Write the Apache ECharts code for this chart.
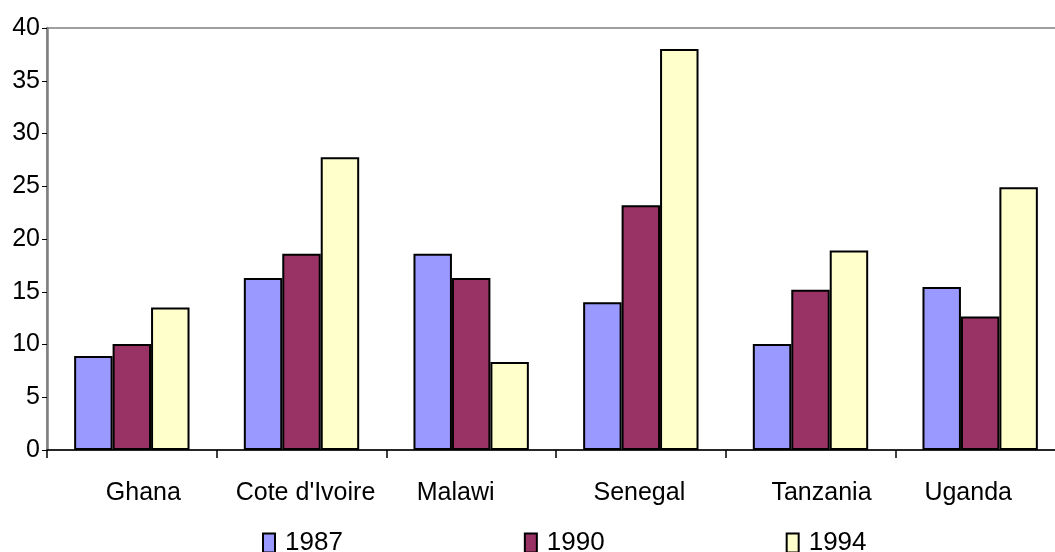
<!DOCTYPE html>
<html>
<head>
<meta charset="utf-8">
<script src="https://cdn.jsdelivr.net/npm/echarts@6/dist/echarts.min.js"></script>
<style>
html,body{margin:0;padding:0;background:#fff;}
#c{width:1055px;height:552px;}
</style>
</head>
<body>
<div id="c"></div>
<script>
const categories = ['Ghana', "Cote d'Ivoire", 'Malawi', 'Senegal', 'Tanzania', 'Uganda'];
const seriesNames = ['1987', '1990', '1994'];
const v1987 = [8.9, 16.3, 18.6, 14.0, 10.05, 15.45];
const v1990 = [10.05, 18.6, 16.3, 23.2, 15.2, 12.65];
const v1994 = [13.5, 27.75, 8.35, 38.0, 18.9, 24.9];
const yTicks = [0, 5, 10, 15, 20, 25, 30, 35, 40];

const colors = ['#9999FF', '#993366', '#FFFFCC'];
const labelShift = [11.5, 4, -15.5, -1.5, 11, -12];
const font = 'Liberation Sans, Arial, sans-serif';

const chart = echarts.init(document.getElementById('c'), null, {renderer: 'canvas'});
const rich = {};
categories.forEach((c, i) => {
  rich['s' + i] = {fontSize: 25, fontFamily: font, color: '#000',
    padding: labelShift[i] > 0 ? [0, 0, 0, 2 * labelShift[i]] : [0, -2 * labelShift[i], 0, 0]};
});

const values = [v1987, v1990, v1994];
chart.setOption({
  animation: false,
  backgroundColor: '#fff',
  grid: {left: 47, top: 28, width: 1018, height: 422, outerBoundsMode: 'none', containLabel: false,
    show: true, borderColor: '#808080', borderWidth: 1.5, backgroundColor: 'transparent'},
  legend: {
    left: 262, top: 530, padding: 0, itemWidth: 12, itemHeight: 19, itemGap: 181,
    icon: 'rect',
    textStyle: {fontSize: 26, fontFamily: font, color: '#000', padding: [0, 0, 0, 5]},
    data: seriesNames
  },
  xAxis: {
    type: 'category', data: categories,
    axisLine: {lineStyle: {color: '#000', width: 1.5}},
    axisTick: {show: true, interval: 0, length: 8, lineStyle: {color: '#000', width: 1.5}},
    axisLabel: {
      interval: 0, margin: 31, fontSize: 25, fontFamily: font, color: '#000',
      formatter: (v) => '{s' + categories.indexOf(v) + '|' + v + '}',
      rich: rich
    },
    splitLine: {show: false}
  },
  yAxis: {
    type: 'value', min: yTicks[0], max: yTicks[yTicks.length - 1], interval: 5,
    axisLine: {show: true, lineStyle: {color: '#808080', width: 2.5}},
    axisTick: {show: true, length: 5, lineStyle: {color: '#000', width: 1}},
    axisLabel: {margin: 7, fontSize: 25, fontFamily: font, color: '#000'},
    splitLine: {show: false}
  },
  series: seriesNames.map((n, i) => ({
    name: n, type: 'bar', data: values[i],
    barGap: '0%', barCategoryGap: '32%',
    itemStyle: {color: colors[i], borderColor: '#000', borderWidth: 2}
  }))
});
</script>
</body>
</html>
